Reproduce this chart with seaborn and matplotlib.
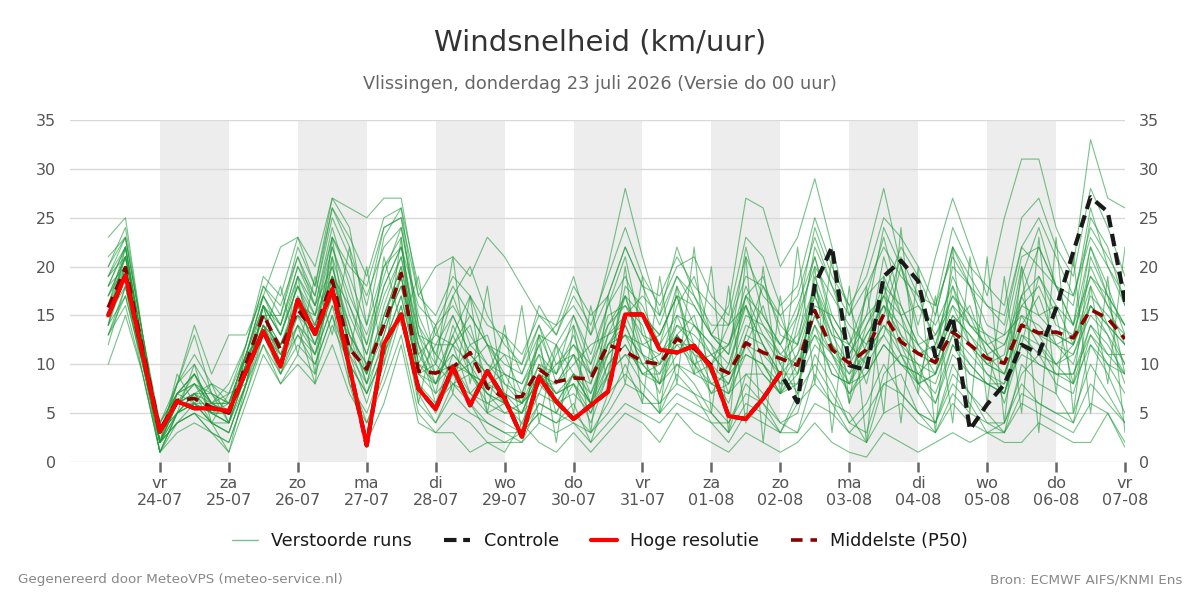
import numpy as np
import pandas as pd
import matplotlib
matplotlib.use("Agg")
import matplotlib.pyplot as plt
from matplotlib.lines import Line2D
import seaborn as sns

# ---------------- data ----------------
start_time = "2026-07-23 06:00"
n_steps = 60  # 6-hourly values up to 07-08 00:00

hoge_resolutie = [15.0, 19.1, 11.0, 3.1, 6.2, 5.5, 5.5, 5.2, 9.3, 13.4,
                  9.75, 16.6, 13.1, 17.7, 9.7, 1.7, 12.1, 15.1, 7.5, 5.4,
                  9.7, 5.8, 9.3, 6.5, 2.6, 8.7, 6.2, 4.4, 5.8, 7.2,
                  15.1, 15.1, 11.5, 11.2, 11.9, 9.6, 4.7, 4.4, 6.5, 9.1]

controle = [15.0, 19.1, 11.0, 3.1, 6.2, 5.5, 5.5, 5.2, 9.3, 13.4,
            9.75, 16.6, 13.1, 17.7, 9.7, 1.7, 12.1, 15.1, 7.5, 5.4,
            9.7, 5.8, 9.3, 6.5, 2.6, 8.7, 6.2, 4.4, 5.8, 7.2,
            15.1, 15.1, 11.5, 11.2, 11.9, 9.6, 4.7, 4.4, 6.5, 9.1,
            6.1, 18.1, 22.0, 9.9, 9.4, 19.0, 20.6, 18.5, 10.8, 14.9,
            3.3, 5.9, 7.95, 12.0, 11.1, 15.7, 21.5, 27.1, 25.6, 16.4]

middelste_p50 = [15.8, 19.9, 11.5, 3.3, 6.3, 6.5, 5.6, 5.0, 10.1, 15.1,
                 11.5, 15.6, 13.3, 18.6, 11.6, 9.5, 14.0, 19.3, 9.3, 9.1,
                 9.7, 11.2, 7.6, 6.6, 6.7, 9.5, 8.2, 8.6, 8.5, 12.0,
                 11.3, 10.3, 10.0, 12.6, 11.6, 9.9, 9.1, 12.2, 11.2, 10.6,
                 9.9, 15.5, 11.5, 10.1, 11.5, 15.1, 12.3, 11.1, 10.2, 13.3,
                 12.0, 10.6, 10.1, 14.0, 13.2, 13.3, 12.7, 15.6, 14.7, 12.6]

verstoorde_runs = [
    [17,21,12,2,6,7,5,4,9,14,12,17,14,20,13,8,15,20, 10,8,13,9,7,6,5,9,8,11,7,12, 14,10,8,15,11,7,10,16,12,8, 11,17,12,8,14,18,13,9,11,16, 12,9,8,17,13,10,12,18,14,10],
    [14,19,11,1,5,6,4,3,8,16,13,19,15,22,16,12,18,22, 12,7,14,10,5,6,3,8,12,9,6,13, 17,11,7,13,15,9,6,12,16,10, 7,19,14,6,11,21,15,8,9,14, 16,11,6,12,19,15,8,21,17,9],
    [19,23,13,4,7,9,6,6,11,17,14,20,17,25,21,17,22,24, 15,11,17,12,13,8,7,11,5,9,6,9, 18,16,12,18,14,11,9,17,19,13, 12,22,18,13,8,15,21,17,12,19, 15,13,10,19,24,18,14,22,18,13],
    [15,18,10,2,4,5,3,2,7,13,9,12,10,15,8,5,10,16, 8,5,9,6,4,3,2,6,5,8,4,9, 11,8,6,10,8,5,3,9,7,4, 5,11,8,4,3,9,11,7,4,10, 7,5,3,10,8,7,4,12,9,5],
    [16,22,12,3,8,13,7,5,12,18,15,22,18,27,24,14,23,26, 14,9,13,17,12,7,6,13,9,15,10,16, 21,13,10,16,19,13,11,22,15,12, 9,18,12,10,17,23,16,12,9,18, 12,10,11,20,15,16,12,22,17,14],
    [18,20,12,2,5,7,8,6,10,15,12,16,12,17,11,6,12,17, 9,12,15,11,9,11,7,12,6,9,8,13, 14,10,11,13,9,10,14,16,10,7, 14,21,15,12,15,17,12,8,15,22, 18,12,13,15,12,10,11,16,13,8],
    [13,17,10,2,6,8,5,5,9,14,10,14,11,16,13,10,14,18, 12,6,11,9,8,6,3,7,11,14,9,15, 16,14,8,11,14,12,7,13,18,15, 10,13,9,8,12,16,11,10,6,12, 9,8,7,14,17,12,13,19,16,12],
    [20,24,13,3,7,9,6,7,11,16,13,18,15,23,20,18,24,25, 13,10,15,11,9,13,9,14,10,12,9,11, 17,15,13,17,12,10,12,16,12,9, 15,24,19,16,11,13,20,16,14,18, 14,13,12,17,22,18,14,25,22,16],
    [12,18,9,1,5,6,4,3,8,12,8,11,9,14,10,7,11,15, 7,4,8,6,3,2,3,5,4,6,2,7, 9,7,5,9,7,6,4,8,6,4, 3,9,6,5,2,8,9,5,4,8, 6,3,4,8,6,5,5,10,7,4],
    [17,21,12,3,6,7,6,5,10,15,11,15,13,18,12,9,13,19, 11,8,10,7,6,7,5,9,7,8,5,10, 12,9,9,12,12,8,7,11,10,8, 8,14,11,7,10,13,10,9,8,13, 11,9,7,13,12,9,9,14,11,11],
    [16,19,11,4,8,10,7,6,11,16,14,20,16,24,18,12,20,23, 10,14,16,13,10,9,8,12,14,16,13,17, 22,18,14,19,16,13,12,18,14,12, 16,21,14,11,15,24,20,13,11,20, 18,14,13,21,22,18,16,26,20,17],
    [14,20,11,2,4,5,4,4,9,13,10,13,11,16,9,4,9,15, 6,4,7,5,4,3,3,6,5,4,3,6, 10,6,6,8,7,4,4,7,6,3, 7,10,7,4,6,10,7,5,4,9, 7,4,4,9,11,8,7,13,10,7],
    [18,22,12,3,7,8,6,6,11,17,13,18,14,21,15,11,17,21, 13,12,12,15,12,11,10,14,8,10,12,13, 15,17,15,19,17,14,14,19,18,14, 12,18,13,12,17,19,15,16,13,16, 14,12,10,17,19,16,14,19,17,14],
    [15,21,12,2,6,9,5,4,9,14,11,16,12,19,14,8,15,20, 12,9,11,9,7,6,4,8,8,11,9,12, 13,12,11,14,13,11,9,14,13,10, 12,17,13,10,13,16,14,12,10,15, 13,11,9,14,13,13,12,16,14,12],
    [16,20,11,2,5,7,5,5,10,15,12,16,13,18,12,9,14,18, 9,7,9,10,7,5,6,8,6,7,5,9, 11,10,8,10,9,8,7,9,9,7, 8,12,10,7,9,12,10,8,6,11, 9,8,7,12,10,9,8,12,10,9],
    [13,16,9,1,4,5,3,2,7,12,9,13,10,15,10,7,11,16, 8,6,8,7,5,4,3,5,4,5,3,5, 8,7,5,7,6,5,3,6,5,3, 6,8,6,3,5,8,7,5,3,7, 5,4,3,7,6,5,4,8,6,4],
    [19,22,12,4,7,8,7,6,11,17,14,19,16,23,19,14,20,22, 16,14,18,15,12,10,9,13,12,15,11,16, 19,15,13,17,16,13,11,17,15,12, 15,20,17,14,12,17,22,19,15,22, 19,16,14,22,25,21,17,23,20,16],
    [17,20,12,3,6,6,6,5,10,14,12,15,14,19,13,10,15,19, 10,9,10,9,8,7,6,9,7,9,7,11, 13,11,10,13,11,10,8,12,11,9, 9,15,12,9,11,14,12,10,9,14, 12,10,9,14,13,12,10,16,14,12],
    [21,23,13,3,7,9,6,8,12,18,16,21,17,26,22,16,24,25, 17,15,19,17,14,13,11,15,13,17,14,19, 24,19,16,20,21,17,15,23,21,16, 18,25,20,16,19,25,23,20,16,24, 20,18,16,25,27,22,19,28,24,19],
    [10,15,9,1,3,4,3,1,6,11,8,10,8,12,7,4,8,13, 5,3,5,4,2,2,2,4,3,4,2,4, 6,5,4,6,5,4,2,5,4,3, 3,6,5,3,2,5,6,4,3,6, 4,3,3,6,5,4,3,6,5,2],
    [23,25,13,2,8,14,9,13,13,17,22,23,20,27,26,25,27,27, 17,20,21,19,23,21,18,15,14,19,13,20, 28,21,15,22,17,13,16,27,26,20, 23,29,22,15,21,28,20,14,21,27, 22,17,25,31,31,24,20,33,27,26],
    [16,19,12,2,9,6,8,4,11,13,18,11,19,13,22,9,21,14, 19,10,21,8,18,6,16,4,12,5,16,8, 20,6,19,8,22,5,18,4,20,7, 22,8,21,6,18,5,24,7,17,4, 21,6,19,5,23,7,21,5,19,3],
    [14,22,11,3,5,10,4,7,8,16,10,19,9,23,11,20,10,23, 6,14,7,17,5,14,3,13,2,14,3,17, 8,19,5,18,9,20,3,21,2,17, 6,20,3,18,2,19,4,20,3,22, 5,21,4,20,3,23,5,18,8,22],
    [19,21,12,3,6,7,4,1,8,16,9,14,8,21,8,2,6,12, 4,3,3,1,2,1,4,2,1,3,1,3, 5,4,2,5,3,2,1,3,2,1, 2,4,2,1,0.5,3,2,1,2,3, 2,3,2,2,4,3,2,2,5,1.5],
    [15,20,11,2,6,8,6,5,10,16,13,18,13,22,17,13,19,24, 14,11,9,12,10,8,6,10,9,12,10,14, 16,13,12,15,14,12,10,15,14,11, 13,18,14,11,14,17,15,11,12,17, 14,12,10,16,15,13,12,17,15,13],
    [18,22,12,2,7,6,5,6,9,15,15,21,16,20,14,9,16,21, 11,13,12,10,12,9,8,11,9,13,8,14, 17,12,13,17,10,11,12,17,13,11, 10,16,15,12,10,18,16,12,13,17, 15,11,12,16,18,14,13,20,16,14],
    [16,21,12,3,5,7,7,4,11,13,12,16,15,19,16,11,18,22, 13,8,12,14,8,9,6,8,10,11,6,12, 15,11,9,14,12,9,8,13,12,9, 11,15,11,9,13,16,13,11,10,15, 13,10,9,15,14,12,11,15,13,10],
    [14,17,10,1,5,6,5,4,8,13,11,14,12,17,11,8,12,17, 9,10,8,9,6,5,5,7,6,9,6,10, 12,9,10,12,10,8,9,11,10,7, 9,13,11,8,9,12,10,9,7,12, 10,8,8,11,10,9,9,13,11,9],
    [20,23,13,3,8,11,8,7,12,19,17,23,18,26,23,19,25,26, 18,13,17,20,15,12,10,16,13,18,15,17, 22,18,17,21,18,16,14,21,17,15, 17,23,18,15,18,22,19,17,16,21, 18,16,15,22,20,18,17,24,21,18],
    [13,18,10,2,4,6,4,3,8,14,10,15,11,19,12,7,13,19, 9,8,12,7,9,6,5,10,7,8,6,11, 13,9,8,13,10,7,8,12,9,7, 10,14,9,8,11,14,11,8,9,13, 10,8,7,13,11,10,8,14,12,9],
]

day_names = ["vr", "za", "zo", "ma", "di", "wo", "do", "vr",
             "za", "zo", "ma", "di", "wo", "do", "vr"]
day_dates = ["24-07", "25-07", "26-07", "27-07", "28-07", "29-07", "30-07",
             "31-07", "01-08", "02-08", "03-08", "04-08", "05-08", "06-08", "07-08"]
shaded_days = ["2026-07-24", "2026-07-26", "2026-07-28", "2026-07-30",
               "2026-08-01", "2026-08-03", "2026-08-05"]
y_ticks = [0, 5, 10, 15, 20, 25, 30, 35]

# ---------------- frames ----------------
times = pd.date_range(start_time, periods=n_steps, freq="6h")
ens_df = pd.DataFrame({
    "time": np.tile(times, len(verstoorde_runs)),
    "member": np.repeat(np.arange(len(verstoorde_runs)), n_steps),
    "value": np.concatenate([np.asarray(r, dtype=float) for r in verstoorde_runs]),
})
hr_df = pd.DataFrame({"time": times[:len(hoge_resolutie)], "value": hoge_resolutie})
ctl_df = pd.DataFrame({"time": times, "value": controle})
p50_df = pd.DataFrame({"time": times, "value": middelste_p50})

# ---------------- style ----------------
sns.set_theme(style="white")
plt.rcParams["font.family"] = ["DejaVu Sans"]

fig = plt.figure(figsize=(12, 6), dpi=100)
ax = fig.add_axes([70 / 1200, 138 / 600, 1055 / 1200, 342 / 600])

for d in shaded_days:
    d0 = pd.Timestamp(d)
    ax.axvspan(d0, d0 + pd.Timedelta(days=1), color="#ededed", zorder=0, lw=0)

green = "#1f9a3a"
sns.lineplot(data=ens_df, x="time", y="value", units="member", estimator=None,
             color=green, alpha=0.6, lw=0.8, ax=ax, legend=False, zorder=2)
sns.lineplot(data=p50_df, x="time", y="value", color="#8b0000", lw=2.6,
             ax=ax, legend=False, zorder=3, linestyle=(0, (3.2, 2.2)))
sns.lineplot(data=ctl_df, x="time", y="value", color="#1a1a1a", lw=3.0,
             ax=ax, legend=False, zorder=4, linestyle=(0, (3.0, 1.6)))
sns.lineplot(data=hr_df, x="time", y="value", color="#ff0000", lw=3.0,
             ax=ax, legend=False, zorder=5)

# axes
x_left = pd.Timestamp(start_time) - pd.Timedelta(hours=13.3)
x_right = pd.Timestamp("2026-08-07 00:00")
ax.set_xlim(x_left, x_right)
ax.set_ylim(0, 35)
ax.set_yticks(y_ticks)
ax.yaxis.grid(True, color="#d9d9d9", lw=1)
ax.xaxis.grid(False)
ax.set_axisbelow(True)
for s in ax.spines.values():
    s.set_visible(False)

tick_pos = pd.date_range("2026-07-24", periods=len(day_dates), freq="D")
ax.set_xticks(tick_pos)
ax.set_xticklabels([f"{n}\n{d}" for n, d in zip(day_names, day_dates)])
ax.tick_params(axis="x", bottom=True, length=7, width=1.8, color="#666666",
               labelsize=11.5, labelcolor="#555555", pad=3)
ax.tick_params(axis="y", left=False, right=False, labelleft=True, labelright=True,
               labelsize=11.5, labelcolor="#555555", pad=4)
ax.set_xlabel("")
ax.set_ylabel("")

# titles
fig.text(0.5, 1 - 42 / 600, "Windsnelheid (km/uur)", ha="center", va="center",
         fontsize=21, color="#333333")
fig.text(0.5, 1 - 84 / 600, "Vlissingen, donderdag 23 juli 2026 (Versie do 00 uur)",
         ha="center", va="center", fontsize=12.8, color="#666666")

# legend
handles = [
    Line2D([], [], color=green, alpha=0.6, lw=1.0),
    Line2D([], [], color="#1a1a1a", lw=3.0, linestyle=(0, (3.0, 1.6))),
    Line2D([], [], color="#ff0000", lw=3.0),
    Line2D([], [], color="#8b0000", lw=2.6, linestyle=(0, (3.2, 2.2))),
]
labels = ["Verstoorde runs", "Controle", "Hoge resolutie", "Middelste (P50)"]
fig.legend(handles, labels, loc="center", bbox_to_anchor=(0.5, 1 - 541 / 600),
           ncol=4, frameon=False, fontsize=12.7, handlelength=1.5,
           columnspacing=1.8, handletextpad=0.75, labelcolor="#1a1a1a")

# footer
fig.text(18 / 1200, 1 - 580 / 600, "Gegenereerd door MeteoVPS (meteo-service.nl)",
         ha="left", va="center", fontsize=9.7, color="#888888")
fig.text(1182 / 1200, 1 - 580 / 600, "Bron: ECMWF AIFS/KNMI Ens",
         ha="right", va="center", fontsize=9.7, color="#888888")

fig.savefig("out.png", dpi=100)
